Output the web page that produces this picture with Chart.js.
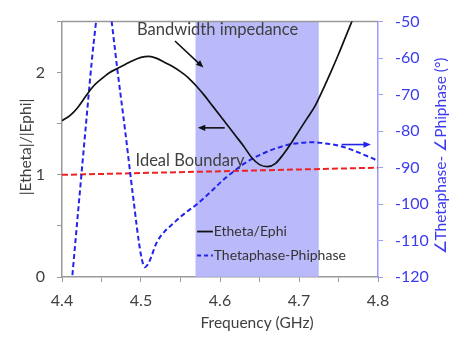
<!DOCTYPE html>
<html>
<head>
<meta charset="utf-8">
<script src="https://cdn.jsdelivr.net/npm/chart.js@4"></script>
<style>
  body { margin: 0; background: white; }
  canvas { display: block; }
</style>
</head>
<body>
<canvas id="plot" width="450" height="337"></canvas>
<script>
// |Etheta|/|Ephi| (left axis)
const ratioFreq = [4.40, 4.41, 4.42, 4.43, 4.44, 4.45, 4.46, 4.47, 4.48, 4.49, 4.50, 4.51, 4.52, 4.53, 4.54,
    4.55, 4.56, 4.57, 4.58, 4.59, 4.60, 4.61, 4.62, 4.63, 4.64, 4.65, 4.66, 4.67, 4.68, 4.69, 4.70, 4.71,
    4.72, 4.73, 4.74, 4.75, 4.76, 4.77, 4.78];
const ratioValues = [1.53, 1.58, 1.66, 1.77, 1.87, 1.94, 2.00, 2.04, 2.08, 2.12, 2.15, 2.16, 2.14, 2.10, 2.06,
    2.01, 1.95, 1.87, 1.78, 1.68, 1.58, 1.48, 1.38, 1.28, 1.17, 1.10, 1.08, 1.11, 1.20, 1.31, 1.43, 1.55,
    1.67, 1.83, 2.00, 2.18, 2.37, 2.56, 2.75];

// Thetaphase - Phiphase (right axis, degrees)
const phaseFreq = [4.40, 4.41, 4.42, 4.43, 4.44, 4.45, 4.455, 4.46, 4.47, 4.48, 4.49, 4.50, 4.505, 4.51, 4.52,
    4.53, 4.54, 4.55, 4.56, 4.57, 4.58, 4.59, 4.60, 4.61, 4.62, 4.63, 4.64, 4.65, 4.66, 4.67, 4.68, 4.69,
    4.70, 4.71, 4.72, 4.73, 4.74, 4.75, 4.76, 4.77, 4.78, 4.79, 4.80];
const phaseValues = [-150, -127, -103, -79, -56, -40, -38, -45, -63, -80, -98, -114, -117.3, -116, -110.5,
    -107.5, -105.5, -103.5, -101.8, -100.2, -98.3, -96.3, -94.2, -92.3, -90.6, -89.0, -87.7, -86.6, -85.6, -84.8, -84.1, -83.6,
    -83.3, -83.1, -83.1, -83.3, -83.6, -84.0, -84.6, -85.4, -86.3, -87.2, -88.2];

// ideal boundary line
const boundaryFreq = [4.4, 4.8];
const boundaryValues = [1.0, 1.07];

// shaded impedance bandwidth
const bandRange = [4.569, 4.725];

const xTicks = [4.4, 4.5, 4.6, 4.7, 4.8];

const FONT = "Lato, 'Open Sans', sans-serif";
const TEXT = "#404040";
const BLUE = "#2323ee";

function pts(xs, ys) {
    return xs.map((x, i) => ({ x: x, y: ys[i] }));
}

function arrow(ctx, x1, y1, x2, y2, color) {
    const a = Math.atan2(y2 - y1, x2 - x1);
    const h = 8;
    ctx.save();
    ctx.strokeStyle = color;
    ctx.fillStyle = color;
    ctx.lineWidth = 1.6;
    ctx.beginPath();
    ctx.moveTo(x1, y1);
    ctx.lineTo(x2 - Math.cos(a) * h * 0.6, y2 - Math.sin(a) * h * 0.6);
    ctx.stroke();
    ctx.beginPath();
    ctx.moveTo(x2, y2);
    ctx.lineTo(x2 - h * Math.cos(a - 0.4), y2 - h * Math.sin(a - 0.4));
    ctx.lineTo(x2 - h * Math.cos(a + 0.4), y2 - h * Math.sin(a + 0.4));
    ctx.closePath();
    ctx.fill();
    ctx.restore();
}

const bandPlugin = {
    id: "band",
    beforeDatasetsDraw(chart) {
        const { ctx, chartArea, scales } = chart;
        const x1 = scales.x.getPixelForValue(bandRange[0]);
        const x2 = scales.x.getPixelForValue(bandRange[1]);
        ctx.save();
        ctx.fillStyle = "rgba(178,178,250,0.9)";
        ctx.fillRect(x1, chartArea.top, x2 - x1, chartArea.bottom - chartArea.top);
        // top frame line
        ctx.strokeStyle = "#999999";
        ctx.lineWidth = 1.5;
        ctx.beginPath();
        ctx.moveTo(chartArea.left, chartArea.top);
        ctx.lineTo(chartArea.right, chartArea.top);
        ctx.stroke();
        ctx.restore();
    }
};

const notesPlugin = {
    id: "notes",
    afterDraw(chart) {
        const { ctx, chartArea, scales } = chart;
        const X = v => scales.x.getPixelForValue(v);
        const Y = v => scales.y.getPixelForValue(v);
        const Y1 = v => scales.y1.getPixelForValue(v);
        ctx.save();
        ctx.fillStyle = TEXT;
        ctx.textBaseline = "middle";
        ctx.font = "16.5px " + FONT;
        ctx.textAlign = "center";
        ctx.fillText("Bandwidth impedance", X(4.597), Y(2.42));
        ctx.fillText("Ideal Boundary", X(4.562), Y(1.14));

        arrow(ctx, X(4.543), Y(2.31), X(4.579), Y(2.05), "#111111");
        arrow(ctx, X(4.606), Y(1.46), X(4.572), Y(1.46), "#111111");
        arrow(ctx, X(4.754), Y1(-83.7), X(4.791), Y1(-83.7), BLUE);

        // legend
        ctx.font = "14px " + FONT;
        ctx.textAlign = "left";
        ctx.lineWidth = 1.8;
        ctx.strokeStyle = "#111111";
        ctx.beginPath();
        ctx.moveTo(X(4.571), Y(0.445));
        ctx.lineTo(X(4.591), Y(0.445));
        ctx.stroke();
        ctx.fillStyle = "#333333";
        ctx.fillText("Etheta/Ephi", X(4.592), Y(0.445));
        ctx.strokeStyle = BLUE;
        ctx.setLineDash([4, 3]);
        ctx.lineWidth = 2;
        ctx.beginPath();
        ctx.moveTo(X(4.571), Y(0.21));
        ctx.lineTo(X(4.591), Y(0.21));
        ctx.stroke();
        ctx.setLineDash([]);
        ctx.fillText("Thetaphase-Phiphase", X(4.592), Y(0.21));

        // axis titles
        ctx.textAlign = "center";
        ctx.font = "15.5px " + FONT;
        ctx.fillStyle = TEXT;
        ctx.fillText("Frequency (GHz)", X(4.6) + 37, 323);

        ctx.save();
        ctx.translate(26, 147);
        ctx.rotate(-Math.PI / 2);
        ctx.fillText("|Etheta|/|Ephi|", 0, 0);
        ctx.restore();

        ctx.save();
        ctx.fillStyle = "#3b3bf0";
        ctx.translate(441, 156);
        ctx.rotate(-Math.PI / 2);
        ctx.fillText("\u2220Thetaphase- \u2220Phiphase (\u00b0)", 0, 0);
        ctx.restore();
        ctx.restore();
    }
};

const ctx = document.getElementById("plot").getContext("2d");
const chart = new Chart(ctx, {
    type: "line",
    data: {
        datasets: [{
            label: "Etheta/Ephi",
            data: pts(ratioFreq, ratioValues),
            yAxisID: "y",
            borderColor: "#111111",
            borderWidth: 1.7,
            pointRadius: 0,
            cubicInterpolationMode: "monotone",
        }, {
            label: "Thetaphase-Phiphase",
            data: pts(phaseFreq, phaseValues),
            yAxisID: "y1",
            borderColor: BLUE,
            borderWidth: 2,
            borderDash: [5, 3],
            pointRadius: 0,
            cubicInterpolationMode: "monotone",
        }, {
            label: "Ideal Boundary",
            data: pts(boundaryFreq, boundaryValues),
            yAxisID: "y",
            borderColor: "#ee2222",
            borderWidth: 2,
            borderDash: [6, 3],
            pointRadius: 0,
        }]
    },
    options: {
        responsive: false,
        animation: false,
        layout: {
            padding: { top: 14, left: 0, right: 0, bottom: 0 }
        },
        scales: {
            x: {
                type: "linear",
                min: 4.4,
                max: 4.8,
                afterFit: (scale) => { scale.height = 60; },
                afterBuildTicks: (scale) => {
                    const t = [];
                    for (let i = 0; i <= 8; i++) t.push({ value: 4.4 + i * 0.05 });
                    scale.ticks = t;
                },
                border: { color: "#999999", width: 1.5 },
                grid: { drawOnChartArea: false, drawTicks: true, tickLength: 5, color: "#999999" },
                ticks: {
                    padding: 9,
                    color: TEXT,
                    font: { size: 16, family: FONT },
                    maxRotation: 0,
                    autoSkip: false,
                    callback: (v) => {
                        const hit = xTicks.find(t => Math.abs(t - v) < 1e-6);
                        return hit === undefined ? "" : hit.toFixed(1);
                    },
                },
            },
            y: {
                position: "left",
                min: 0,
                max: 2.5,
                afterFit: (scale) => { scale.width = 62; },
                border: { color: "#999999", width: 1.5 },
                grid: { drawOnChartArea: false, drawTicks: true, tickLength: 5, color: "#999999" },
                ticks: {
                    stepSize: 0.5,
                    padding: 12,
                    color: TEXT,
                    font: { size: 16, family: FONT },
                    callback: (v) => Number.isInteger(v) ? String(v) : "",
                },
            },
            y1: {
                position: "right",
                min: -120,
                max: -50,
                afterFit: (scale) => { scale.width = 72; },
                border: { color: "#9a9aff", width: 1.5 },
                grid: { drawOnChartArea: false, drawTicks: true, tickLength: 5, color: "#9a9aff" },
                ticks: {
                    stepSize: 5,
                    padding: 12,
                    color: "#3b3bf0",
                    font: { size: 16, family: FONT },
                    callback: (v) => v % 10 === 0 ? String(v) : "",
                },
            },
        },
        plugins: {
            legend: { display: false },
            tooltip: { enabled: false },
        },
    },
    plugins: [bandPlugin, notesPlugin],
});
</script>
</body>
</html>
